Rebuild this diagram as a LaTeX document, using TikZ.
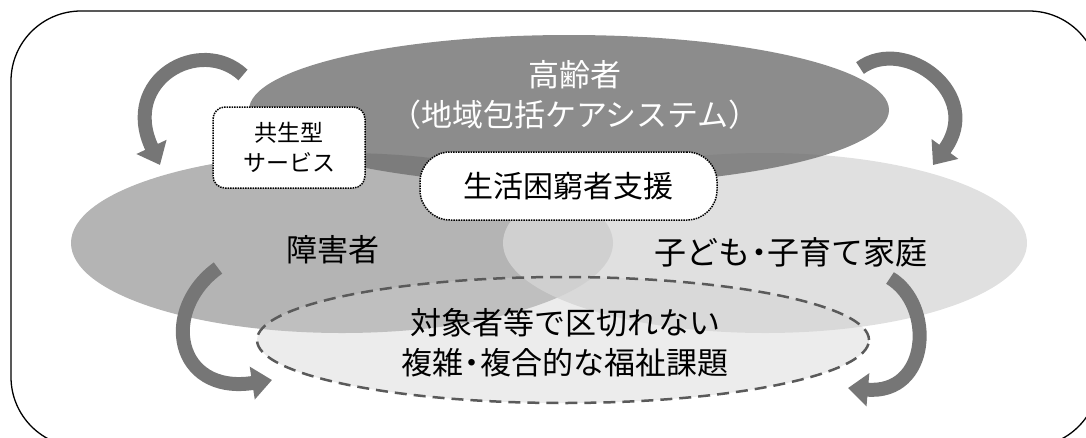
\documentclass[tikz,border=0pt]{standalone}
\usepackage{fontspec}
\newfontfamily\jp{Noto Sans CJK JP}
\usetikzlibrary{arrows.meta,shapes.geometric}
\definecolor{ellL}{HTML}{B4B4B4}
\definecolor{ellR}{HTML}{D8D8D8}
\definecolor{ellT}{HTML}{6F6F6F}
\definecolor{ellB}{HTML}{D0D0D0}
\definecolor{dashgray}{HTML}{5A5A5A}
\definecolor{arrgray}{HTML}{767676}
\newcommand{\nakaten}{\makebox[0.55em]{・}}
\begin{document}
\begin{tikzpicture}[x=1pt,y=-1pt,
  lbl/.style={font=\jp\fontsize{31}{40}\selectfont, align=center, inner sep=0pt},
  arr/.style={line width=14pt, draw=arrgray, -{Triangle[width=32pt,length=20pt]}},
  ell/.style={ellipse, inner sep=0pt, outer sep=0pt},
  dotbox/.style={draw=black, fill=white, line width=1.5pt, densely dotted, inner sep=0pt}]
\useasboundingbox (0,0) rectangle (1086,437);
\clip (0,0) rectangle (1086,437);
% frame
\draw[line width=1.3pt, rounded corners=70pt] (11,11) rectangle (1099,447);
% ellipses
\node[ell, fill=ellL, minimum width=542pt, minimum height=180pt] (dis) at (342,243) {};
\node[ell, fill=ellR, fill opacity=0.8, minimum width=524pt, minimum height=180pt] (chi) at (765,243) {};
\node[ell, fill=ellT, fill opacity=0.8, minimum width=640pt, minimum height=150pt] (eld) at (569,110) {};
\node[ell, draw=dashgray, dash pattern=on 12pt off 7pt, line width=2.5pt, fill=ellB, fill opacity=0.4, minimum width=612pt, minimum height=126pt] (iss) at (563,340) {};
% boxes
\node[dotbox, rounded corners=12pt, minimum width=152pt, minimum height=81pt, font=\jp\fontsize{23}{30}\selectfont, align=center] (kyo) at (289,147.5) {共生型\\サービス};
\node[dotbox, rounded corners=30pt, minimum width=297pt, minimum height=68pt, font=\jp\fontsize{30}{36}\selectfont] (sei) at (568.5,186) {生活困窮者支援};
% labels
\node[lbl, text=white] (eldt) at (575,95) {高齢者\\（地域包括ケアシステム）};
\node[lbl] (dist) at (333,250) {障害者};
\node[lbl, font=\jp\fontsize{32}{40}\selectfont] (chit) at (791,252) {子ども\nakaten 子育て家庭};
\node[lbl] (isst) at (565,343) {対象者等で区切れない\\複雑\nakaten 複合的な福祉課題};
% arrows
\coordinate (a1s) at (243,75);  \coordinate (a1e) at (160,165);
\coordinate (a2s) at (860,68);  \coordinate (a2e) at (933,165);
\coordinate (a3s) at (218,268); \coordinate (a3e) at (272,380);
\coordinate (a4s) at (890,278); \coordinate (a4e) at (848,388);
\draw[arr] (a1s) .. controls (200,35) and (120,80) .. (a1e);
\draw[arr] (a2s) .. controls (905,35) and (985,95) .. (a2e);
\draw[arr] (a3s) .. controls (160,310) and (175,395) .. (a3e);
\draw[arr] (a4s) .. controls (935,305) and (930,395) .. (a4e);
\end{tikzpicture}
\end{document}
